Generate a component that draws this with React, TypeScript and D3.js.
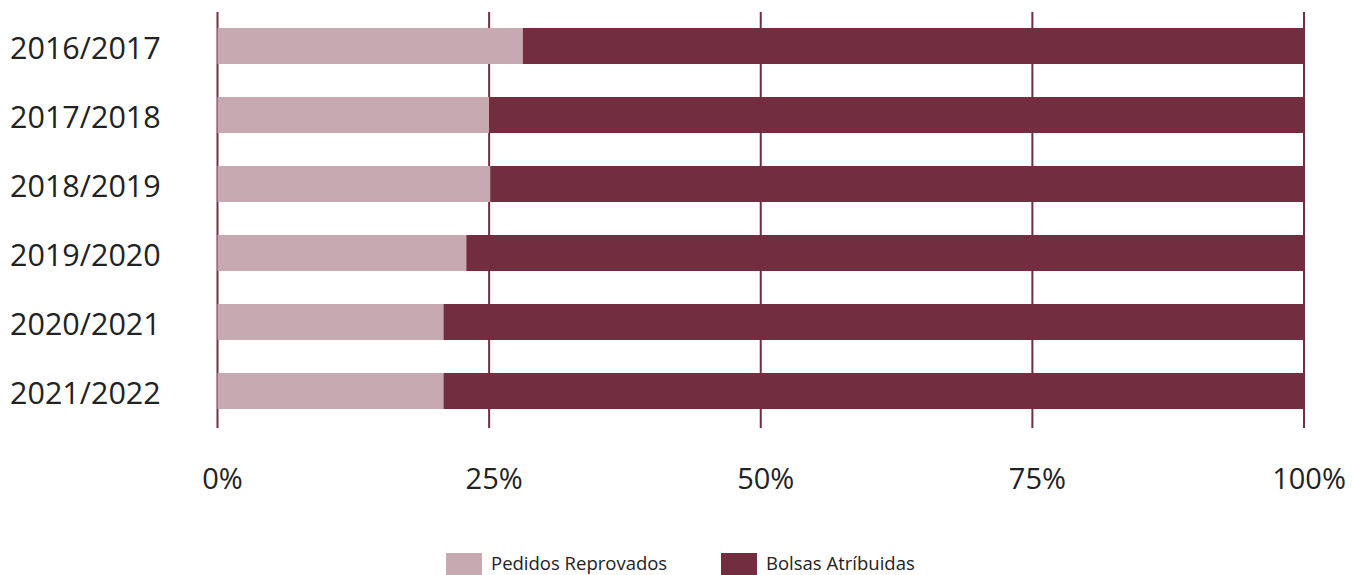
import React, { useEffect, useRef } from 'react';
import * as d3 from 'd3';

const years = ['2016/2017', '2017/2018', '2018/2019', '2019/2020', '2020/2021', '2021/2022'];
const pedidosReprovados = [28.1, 25.0, 25.1, 22.9, 20.8, 20.8];
const bolsasAtribuidas = [71.9, 75.0, 74.9, 77.1, 79.2, 79.2];
const seriesNames = ['Pedidos Reprovados', 'Bolsas Atríbuidas'];
const tickValues = [0, 0.25, 0.5, 0.75, 1];

const colors = ['#c7aab1', '#722e3f'];
const font = '"Open Sans", sans-serif';

function StackedBars() {
  const ref = useRef<SVGSVGElement>(null);

  useEffect(() => {
    const width = 1353;
    const height = 575;

    const rows = years.map((y, i) => ({
      year: y,
      a: pedidosReprovados[i],
      b: bolsasAtribuidas[i],
    }));

    const stack = d3.stack<any>().keys(['a', 'b']).offset(d3.stackOffsetExpand);
    const series = stack(rows);

    const x = d3.scaleLinear().domain([0, 1]).range([217.5, 1304]);
    const y = d3.scaleBand()
      .domain(years)
      .range([11.5, 425.5])
      .paddingInner(0.478)
      .paddingOuter(0.239);

    const svg = d3.select(ref.current)
      .attr('width', width)
      .attr('height', height)
      .attr('viewBox', [0, 0, width, height] as any);

    svg.selectAll('*').remove();

    // grid lines
    svg.append('g')
      .selectAll('line')
      .data(tickValues)
      .join('line')
        .attr('x1', d => x(d))
        .attr('x2', d => x(d))
        .attr('y1', 12)
        .attr('y2', 428)
        .attr('stroke', '#722e3f')
        .attr('stroke-width', 2);

    // bars
    svg.append('g')
      .selectAll('g')
      .data(series)
      .join('g')
        .attr('fill', (d, i) => colors[i])
      .selectAll('rect')
      .data(d => d)
      .join('rect')
        .attr('x', d => x(d[0]))
        .attr('width', d => x(d[1]) - x(d[0]))
        .attr('y', d => y(d.data.year)!)
        .attr('height', y.bandwidth());

    // category labels
    svg.append('g')
      .selectAll('text')
      .data(years)
      .join('text')
        .attr('x', 10)
        .attr('y', d => y(d)! + y.bandwidth() / 2 + 1)
        .attr('dominant-baseline', 'central')
        .attr('font-family', font)
        .attr('font-size', 30.5)
        .attr('fill', '#222')
        .text(d => d);

    // tick labels
    svg.append('g')
      .selectAll('text')
      .data(tickValues)
      .join('text')
        .attr('x', d => x(d) + 5)
        .attr('y', 489)
        .attr('text-anchor', 'middle')
        .attr('font-family', font)
        .attr('font-size', 29)
        .attr('fill', '#222')
        .text(d => d3.format('.0%')(d));

    // legend
    const legendX = [446, 721];
    const legend = svg.append('g')
      .selectAll('g')
      .data(seriesNames)
      .join('g')
        .attr('transform', (d, i) => `translate(${legendX[i]},553)`);

    legend.append('rect')
      .attr('width', 36)
      .attr('height', 24)
      .attr('fill', (d, i) => colors[i]);

    legend.append('text')
      .attr('x', 45)
      .attr('y', 17)
      .attr('font-family', font)
      .attr('font-size', 18.5)
      .attr('fill', '#222')
      .text(d => d);
  }, []);

  return <svg ref={ref} style={{ position: 'absolute', left: 0, top: 0, display: 'block' }} />;
}

export default function App() {
  return <StackedBars />;
}
